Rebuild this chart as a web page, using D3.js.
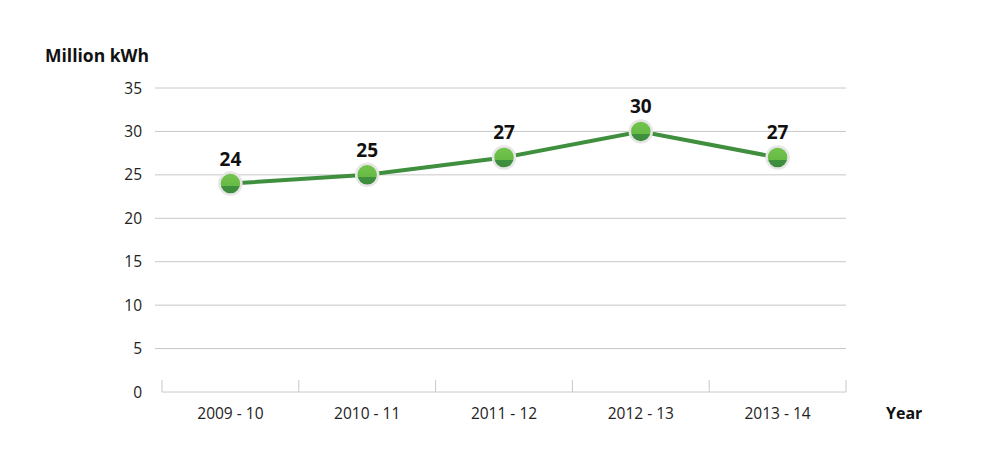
<!DOCTYPE html>
<html><head><meta charset="utf-8">
<script src="https://cdn.jsdelivr.net/npm/d3@7"></script>
<style>body{margin:0;background:#fff}svg{display:block;font-family:"Open Sans","Noto Sans",sans-serif}</style>
</head><body><svg id="c" width="1000" height="468"></svg>
<script>
const categories = ["2009 - 10","2010 - 11","2011 - 12","2012 - 13","2013 - 14"];
const values = [24,25,27,30,27];
const yTicks = [0,5,10,15,20,25,30,35];
const yTitle = "Million kWh";
const xTitle = "Year";

const svg = d3.select("#c");
const x = d3.scaleBand().domain(categories).range([162,846]);
const y = d3.scaleLinear().domain([0,35]).range([392,88]);

const defs = svg.append("defs");
const g = defs.append("linearGradient").attr("id","mk").attr("x1",0).attr("y1",0).attr("x2",0).attr("y2",1);
g.append("stop").attr("offset","0%").attr("stop-color","#74c44e");
g.append("stop").attr("offset","62%").attr("stop-color","#66bb44");
g.append("stop").attr("offset","62%").attr("stop-color","#3f9140");
g.append("stop").attr("offset","100%").attr("stop-color","#3a8a3a");

svg.append("g").selectAll("line").data(yTicks.filter(d=>d>0)).join("line")
  .attr("x1",155).attr("x2",846).attr("y1",d=>y(d)).attr("y2",d=>y(d))
  .attr("stroke","#c8c8c8").attr("stroke-width",1);

svg.append("g").selectAll("text").data(yTicks).join("text")
  .attr("x",142).attr("y",d=>y(d)+5.5).attr("text-anchor","end")
  .attr("font-size",15.5).attr("fill","#222").text(d=>d);

svg.append("line").attr("x1",162).attr("x2",846).attr("y1",392).attr("y2",392).attr("stroke","#c8c8c8");
const bounds = categories.map(c=>x(c)).concat([x.range()[1]]);
svg.append("g").selectAll("line").data(bounds).join("line")
  .attr("x1",d=>d).attr("x2",d=>d).attr("y1",380).attr("y2",392).attr("stroke","#c8c8c8");
svg.append("g").selectAll("text").data(categories).join("text")
  .attr("x",d=>x(d)+x.bandwidth()/2).attr("y",419).attr("text-anchor","middle")
  .attr("font-size",15.5).attr("fill","#222").text(d=>d);

svg.append("text").attr("x",45).attr("y",62).attr("font-size",17.5).attr("font-weight","bold").attr("fill","#111").text(yTitle);
svg.append("text").attr("x",886).attr("y",419).attr("font-size",16).attr("font-weight","bold").attr("fill","#111").text(xTitle);

const cx = (d,i)=>x(categories[i])+x.bandwidth()/2;
svg.append("path").datum(values)
  .attr("d",d3.line().x(cx).y(d=>y(d)))
  .attr("fill","none").attr("stroke","#3f8f3f").attr("stroke-width",4);

svg.append("g").selectAll("circle").data(values).join("circle")
  .attr("cx",cx).attr("cy",d=>y(d)).attr("r",11)
  .attr("fill","url(#mk)").attr("stroke","#e6e6e6").attr("stroke-width",2.5);

svg.append("g").selectAll("text").data(values).join("text")
  .attr("x",cx).attr("y",d=>y(d)-18).attr("text-anchor","middle")
  .attr("font-size",19).attr("font-weight","bold").attr("fill","#111").text(d=>d);
</script></body></html>
